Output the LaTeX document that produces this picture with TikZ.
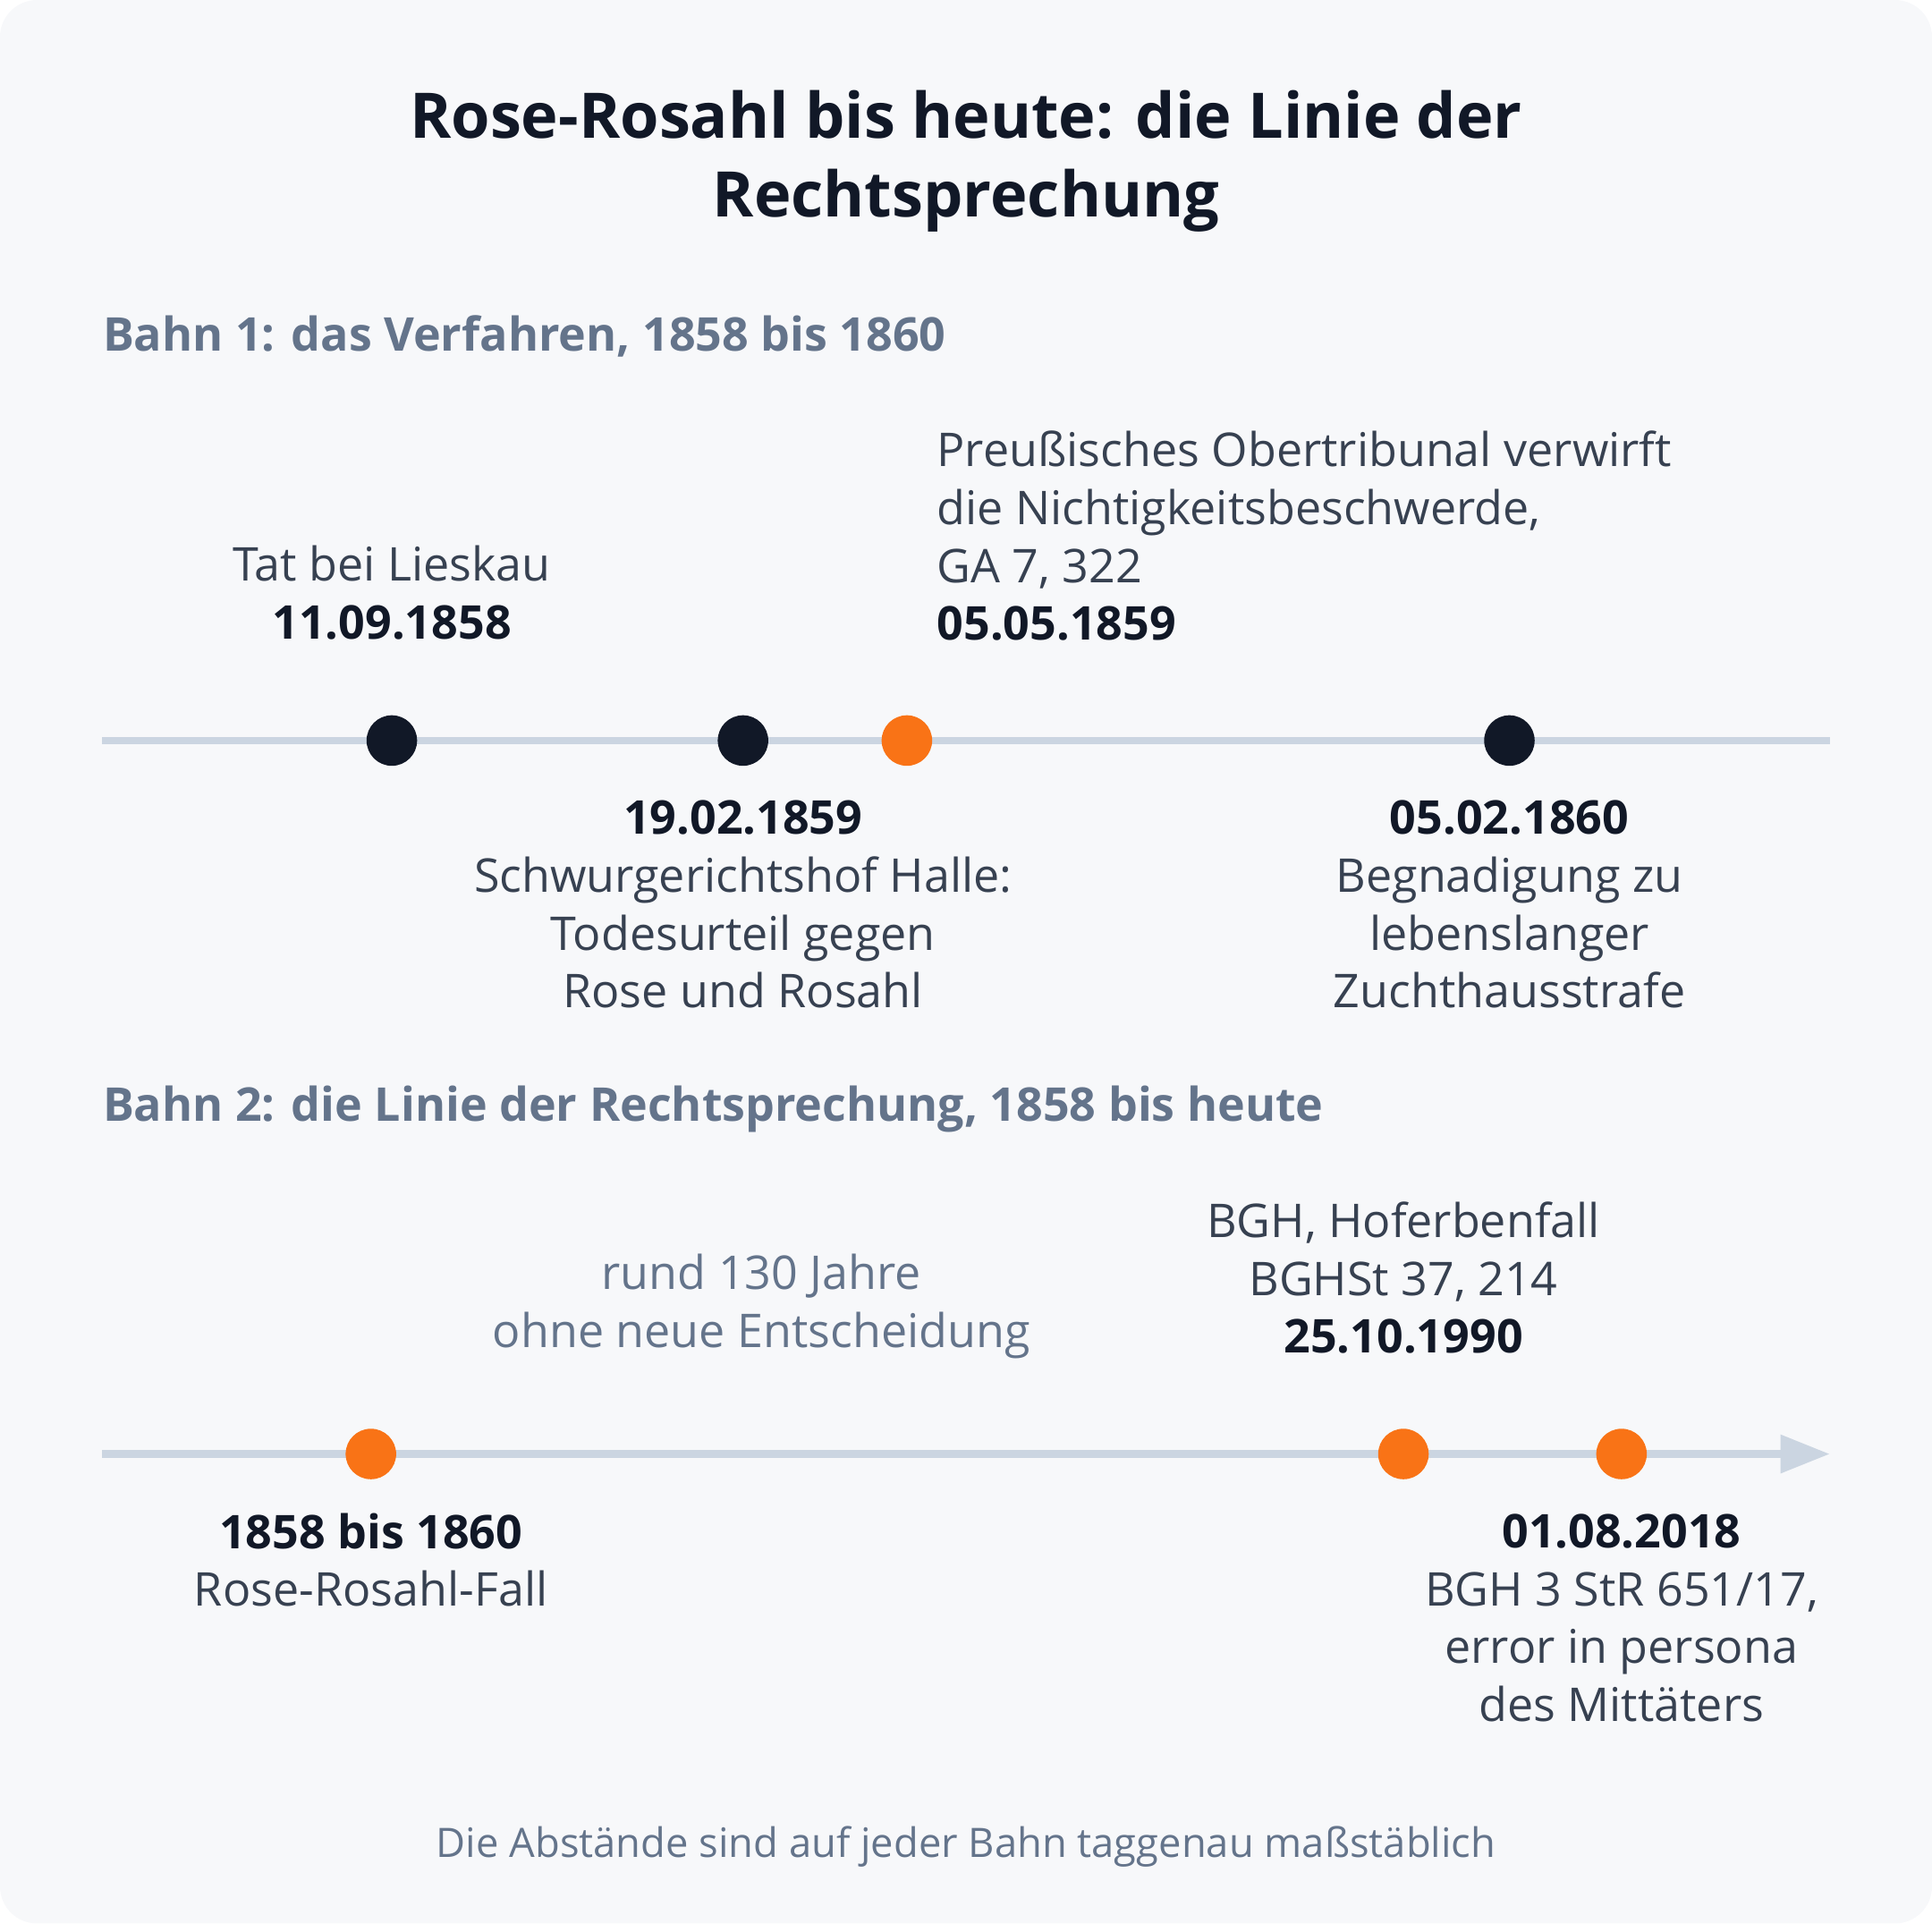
\documentclass[tikz,border=0pt]{standalone}
\usepackage{fontspec}
\setmainfont{Open Sans}
\usepackage{tikz}
\usetikzlibrary{arrows.meta}
\definecolor{bgGrey}{HTML}{F7F8FA}
\definecolor{inkDark}{HTML}{111827}
\definecolor{inkText}{HTML}{374151}
\definecolor{inkSlate}{HTML}{64748B}
\definecolor{lineGrey}{HTML}{CBD5E1}
\definecolor{dotOrange}{HTML}{F97316}
\tikzset{
    DarkDot/.style={circle, fill=inkDark, minimum size=41\pxu, inner sep=0pt},
    OrangeDot/.style={circle, fill=dotOrange, minimum size=41\pxu, inner sep=0pt},
    Bahn/.style={line width=6\pxu, draw=lineGrey},
    Label/.style={align=center, text=inkText, inner sep=0pt,
        font=\fontsize{14.8}{18.4}\selectfont},
    Header/.style={anchor=base west, text=inkSlate, inner sep=0pt,
        font=\fontsize{14.8}{18.4}\selectfont\bfseries}
}
\newcommand{\pxu}{*0.01378cm}
\newcommand{\drawDark}[2]{\node[DarkDot] (#1) at #2 {}}
\newcommand{\drawOrange}[2]{\node[OrangeDot] (#1) at #2 {}}
\newcommand{\dat}[1]{\textbf{\textcolor{inkDark}{#1}}}
\begin{document}
\begin{tikzpicture}[x=0.01378cm, y=-0.01378cm]
    \useasboundingbox (0,0) rectangle (1568,1561);
    \fill[bgGrey, rounded corners=30\pxu] (0,0) rectangle (1568,1561);

    \node[align=center, text=inkDark, inner sep=0pt,
        font=\fontsize{20}{25.2}\selectfont\bfseries] (titel) at (784,131)
        {Rose-Rosahl bis heute: die Linie der\\Rechtsprechung};

    % Bahn 1
    \node[Header] (bahnA) at (83,285) {Bahn 1: das Verfahren, 1858 bis 1860};
    \coordinate (aStart) at (83,601);
    \coordinate (aEnd) at (1485,601);
    \draw[Bahn] (aStart) -- (aEnd);

    \drawDark{tat}{(318,601)};
    \drawDark{urteil}{(603,601)};
    \drawOrange{obertrib}{(736,601)};
    \drawDark{gnade}{(1225,601)};

    \node[Label] (tatL) at (318,481) {Tat bei Lieskau\\\dat{11.09.1858}};
    \node[Label, align=left, anchor=west] (obertribL) at (760,435)
        {Preußisches Obertribunal verwirft\\die Nichtigkeitsbeschwerde,\\GA 7, 322\\\dat{05.05.1859}};
    \node[Label] (urteilL) at (603,734)
        {\dat{19.02.1859}\\Schwurgerichtshof Halle:\\Todesurteil gegen\\Rose und Rosahl};
    \node[Label] (gnadeL) at (1225,734)
        {\dat{05.02.1860}\\Begnadigung zu\\lebenslanger\\Zuchthausstrafe};

    % Bahn 2
    \node[Header] (bahnB) at (83,910) {Bahn 2: die Linie der Rechtsprechung, 1858 bis heute};
    \coordinate (bStart) at (83,1180);
    \coordinate (bEnd) at (1485,1180);
    \draw[Bahn, -{Triangle[length=40\pxu, width=30\pxu]}] (bStart) -- (bEnd);

    \drawOrange{fall}{(301,1180)};
    \drawOrange{hofer}{(1139,1180)};
    \drawOrange{persona}{(1316,1180)};

    \node[Label, text=inkSlate] (luecke) at (618,1060)
        {rund 130 Jahre\\ohne neue Entscheidung};
    \node[Label] (hoferL) at (1139,1037)
        {BGH, Hoferbenfall\\BGHSt 37, 214\\\dat{25.10.1990}};
    \node[Label] (fallL) at (301,1266) {\dat{1858 bis 1860}\\Rose-Rosahl-Fall};
    \node[Label] (personaL) at (1316,1313)
        {\dat{01.08.2018}\\BGH 3 StR 651/17,\\error in persona\\des Mittäters};

    \node[text=inkSlate, inner sep=0pt, anchor=base,
        font=\fontsize{12.9}{16}\selectfont] (fuss) at (784,1507)
        {Die Abstände sind auf jeder Bahn taggenau maßstäblich};
\end{tikzpicture}
\end{document}
